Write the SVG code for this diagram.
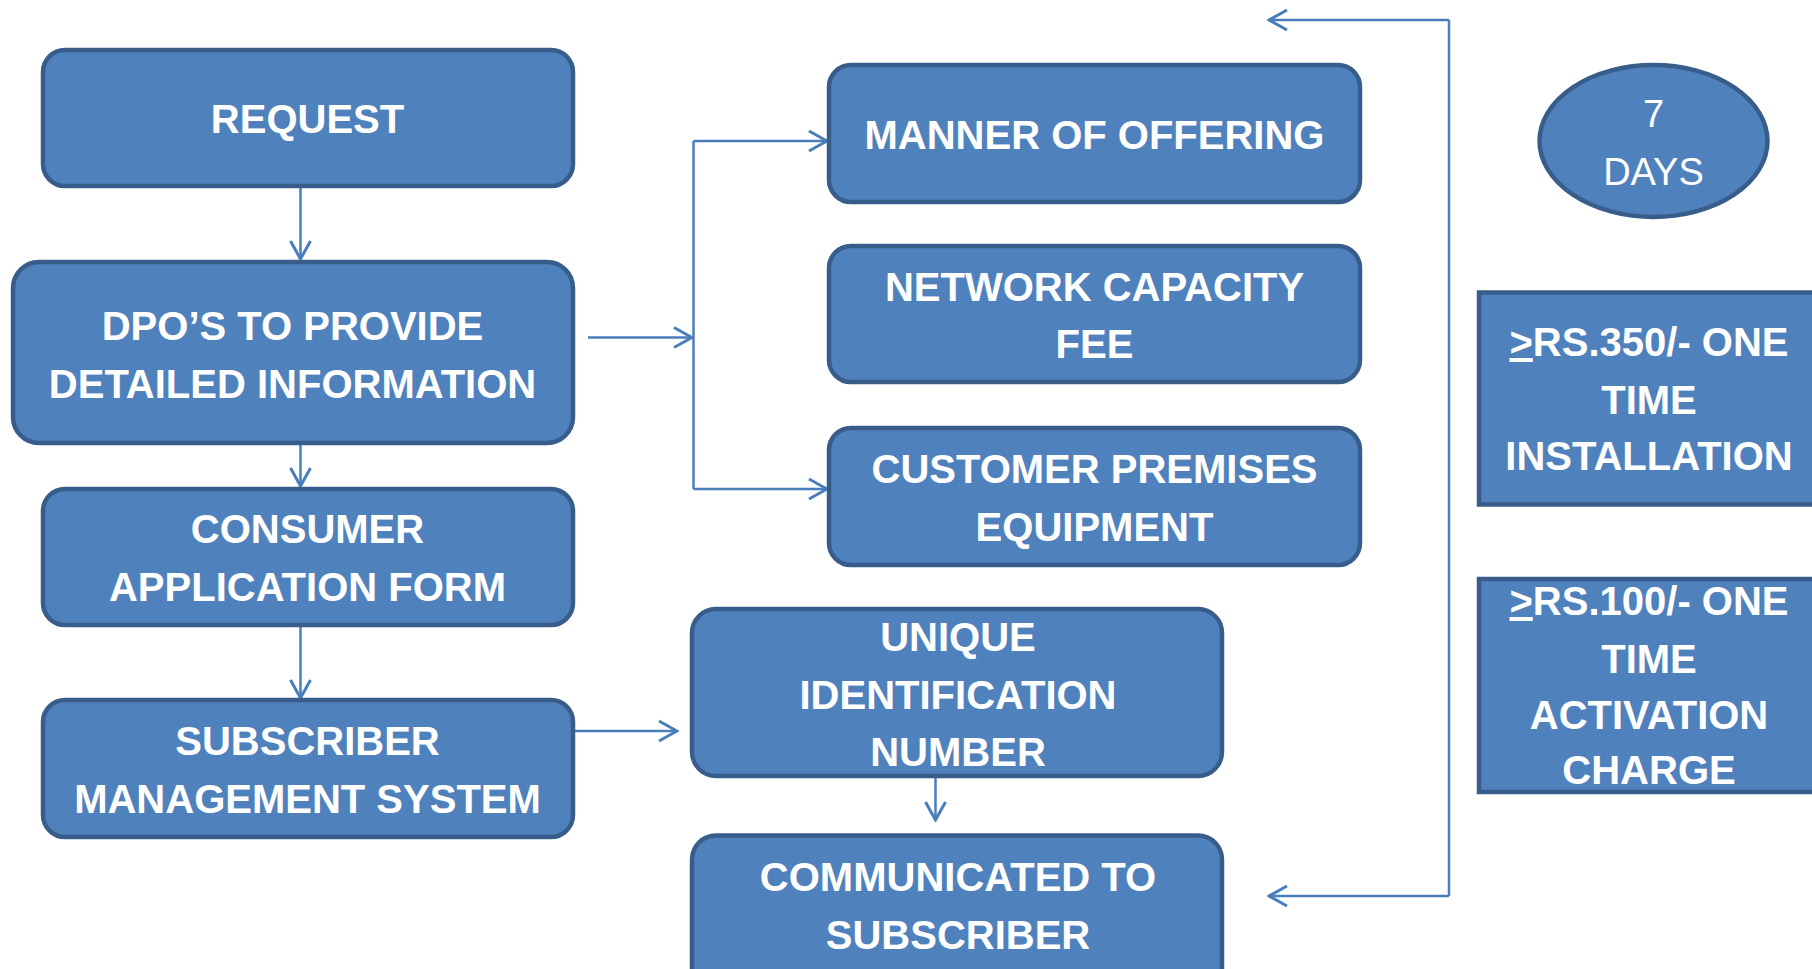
<svg xmlns="http://www.w3.org/2000/svg" width="1812" height="969" viewBox="0 0 1812 969">
<defs>
<style>
.box{fill:#4f81bd;stroke:#385d8a;stroke-width:4.5}
.t{font-family:"Liberation Sans",Arial,sans-serif;font-weight:700;font-size:40px;fill:#ffffff;text-anchor:middle}
.r{font-family:"Liberation Sans",Arial,sans-serif;font-weight:400;font-size:38px;fill:#ffffff;text-anchor:middle}
.c{fill:none;stroke:#4a7ebb;stroke-width:2.5}
</style>
<marker id="ah" viewBox="-20 -12 22 24" refX="0" refY="0" markerWidth="22" markerHeight="24" markerUnits="userSpaceOnUse" orient="auto">
<path d="M-18,-10 L0,0 L-18,10" fill="none" stroke="#4a7ebb" stroke-width="3"/>
</marker>
</defs>
<rect width="1812" height="969" fill="#ffffff"/>

<g id="connectors">
<line class="c" x1="300.5" y1="186" x2="300.5" y2="259" marker-end="url(#ah)"/>
<line class="c" x1="300.5" y1="411" x2="300.5" y2="486" marker-end="url(#ah)"/>
<line class="c" x1="300.5" y1="625" x2="300.5" y2="698" marker-end="url(#ah)"/>
<line class="c" x1="588" y1="337.5" x2="692" y2="337.5" marker-end="url(#ah)"/>
<line class="c" x1="693.5" y1="141" x2="693.5" y2="489"/>
<line class="c" x1="693.5" y1="141" x2="827" y2="141" marker-end="url(#ah)"/>
<line class="c" x1="693.5" y1="489" x2="827" y2="489" marker-end="url(#ah)"/>
<line class="c" x1="573" y1="731" x2="677" y2="731" marker-end="url(#ah)"/>
<line class="c" x1="935.5" y1="776" x2="935.5" y2="820" marker-end="url(#ah)"/>
<polyline class="c" points="1449,20 1449,896"/>
<line class="c" x1="1449" y1="20" x2="1269" y2="20" marker-end="url(#ah)"/>
<line class="c" x1="1449" y1="896" x2="1269" y2="896" marker-end="url(#ah)"/>
</g>

<g id="request">
<rect class="box" x="43" y="50" width="530" height="136" rx="22"/>
<text class="t" x="307.5" y="133">REQUEST</text>
</g>
<g id="dpo">
<rect class="box" x="13" y="262" width="560" height="181" rx="26"/>
<text class="t" x="292.5" y="340">DPO’S TO PROVIDE</text>
<text class="t" x="292.5" y="397.5">DETAILED INFORMATION</text>
</g>
<g id="consumer">
<rect class="box" x="43" y="489" width="530" height="136" rx="22"/>
<text class="t" x="307.5" y="543">CONSUMER</text>
<text class="t" x="307.5" y="601">APPLICATION FORM</text>
</g>
<g id="subscriber">
<rect class="box" x="43" y="700" width="530" height="137" rx="22"/>
<text class="t" x="307.5" y="754.5">SUBSCRIBER</text>
<text class="t" x="307.5" y="812.5">MANAGEMENT SYSTEM</text>
</g>
<g id="manner">
<rect class="box" x="829" y="65" width="531" height="137" rx="22"/>
<text class="t" x="1094.5" y="149">MANNER OF OFFERING</text>
</g>
<g id="network">
<rect class="box" x="829" y="246" width="531" height="136" rx="22"/>
<text class="t" x="1094.5" y="300.5">NETWORK CAPACITY</text>
<text class="t" x="1094.5" y="358">FEE</text>
</g>
<g id="customer">
<rect class="box" x="829" y="428" width="531" height="137" rx="22"/>
<text class="t" x="1094.5" y="483">CUSTOMER PREMISES</text>
<text class="t" x="1094.5" y="541">EQUIPMENT</text>
</g>
<g id="unique">
<rect class="box" x="692" y="609" width="530" height="167" rx="24"/>
<text class="t" x="958" y="650.5">UNIQUE</text>
<text class="t" x="958" y="708.5">IDENTIFICATION</text>
<text class="t" x="958" y="766">NUMBER</text>
</g>
<g id="communicated">
<rect class="box" x="692" y="835.5" width="530" height="160" rx="24"/>
<text class="t" x="958" y="891">COMMUNICATED TO</text>
<text class="t" x="958" y="949">SUBSCRIBER</text>
</g>
<g id="days">
<ellipse class="box" cx="1653.5" cy="141" rx="114" ry="76"/>
<text class="r" x="1653.5" y="127">7</text>
<text class="r" x="1653.5" y="185">DAYS</text>
</g>
<g id="installation">
<rect class="box" x="1479" y="292.5" width="360" height="212"/>
<text class="t" x="1649" y="356"><tspan text-decoration="underline">&gt;</tspan>RS.350/- ONE</text>
<text class="t" x="1649" y="413.5">TIME</text>
<text class="t" x="1649" y="470">INSTALLATION</text>
</g>
<g id="activation">
<rect class="box" x="1479" y="579" width="360" height="213"/>
<text class="t" x="1649" y="615"><tspan text-decoration="underline">&gt;</tspan>RS.100/- ONE</text>
<text class="t" x="1649" y="673">TIME</text>
<text class="t" x="1649" y="729">ACTIVATION</text>
<text class="t" x="1649" y="784">CHARGE</text>
</g>
</svg>
